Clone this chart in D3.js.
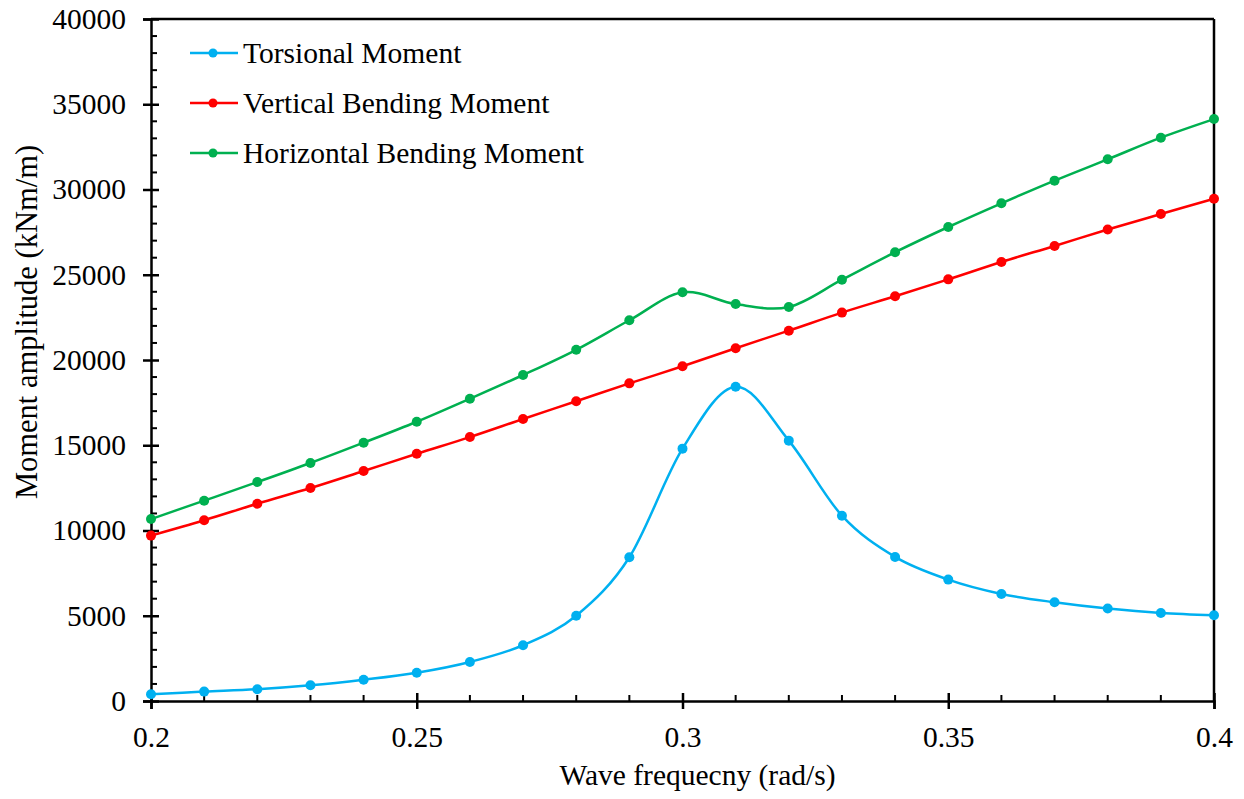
<!DOCTYPE html>
<html>
<head>
<meta charset="utf-8">
<script src="https://cdn.jsdelivr.net/npm/d3@7"></script>
<style>
  html, body { margin: 0; padding: 0; background: #fff; }
  svg { display: block; }
  svg text { font-family: "Times New Roman", "Liberation Serif", serif; fill: #000; }
</style>
</head>
<body>
<svg id="chart" width="1244" height="799"></svg>
<script>
const frequencies = [0.20,0.21,0.22,0.23,0.24,0.25,0.26,0.27,0.28,0.29,0.30,0.31,0.32,0.33,0.34,0.35,0.36,0.37,0.38,0.39,0.40];
const torsional = [400,550,690,920,1250,1660,2290,3270,5000,8430,14800,18430,15270,10870,8450,7120,6280,5790,5420,5160,5030];
const verticalBending = [9700,10600,11570,12490,13490,14500,15480,16540,17580,18630,19630,20690,21720,22780,23740,24730,25750,26690,27650,28560,29460];
const horizontalBending = [10670,11750,12840,13960,15150,16380,17730,19120,20600,22330,23970,23280,23110,24710,26320,27800,29190,30520,31770,33040,34130];
const seriesNames = ["Torsional Moment","Vertical Bending Moment","Horizontal Bending Moment"];
const seriesColors = ["#00B0F0","#FF0000","#00B050"];
const xTicks = [0.2,0.25,0.3,0.35,0.4];
const xTickLabels = ["0.2","0.25","0.3","0.35","0.4"];
const yTicks = [0,5000,10000,15000,20000,25000,30000,35000,40000];
const xLabel = "Wave frequecny (rad/s)";
const yLabel = "Moment amplitude (kNm/m)";

const svg = d3.select("#chart");
const L = 151, R = 1214, T = 19, B = 701;
const x = d3.scaleLinear().domain([0.2,0.4]).range([L,R]);
const y = d3.scaleLinear().domain([0,40000]).range([B,T]);
const FS = 29.5;
const FF = '"Times New Roman", "Liberation Serif", serif';

const allSeries = [torsional, verticalBending, horizontalBending];

// frame top and right
svg.append("line").attr("x1",L).attr("x2",R).attr("y1",T).attr("y2",T).attr("stroke","#000").attr("stroke-width",2.5);
svg.append("line").attr("x1",R).attr("x2",R).attr("y1",T).attr("y2",B).attr("stroke","#000").attr("stroke-width",2.5);

// minor ticks
const yMinor = d3.range(0,40001,1000).filter(v => v % 5000 !== 0);
svg.append("g").selectAll("line").data(yMinor).join("line")
  .attr("x1",L).attr("x2",L+6).attr("y1",d=>y(d)).attr("y2",d=>y(d))
  .attr("stroke","#000").attr("stroke-width",2);
const xMinor = d3.range(21,40).filter(v => v % 5 !== 0).map(v => v/100);
svg.append("g").selectAll("line").data(xMinor).join("line")
  .attr("x1",d=>x(d)).attr("x2",d=>x(d)).attr("y1",B).attr("y2",B-6)
  .attr("stroke","#000").attr("stroke-width",2);

// y axis
const yAxis = d3.axisLeft(y).tickValues(yTicks).tickSize(8).tickPadding(17).tickFormat(d3.format("d"));
const gy = svg.append("g").attr("transform",`translate(${L},0)`).call(yAxis).attr("font-family",FF).attr("font-size",FS);
gy.select(".domain").attr("stroke","#000").attr("stroke-width",2.5);
gy.selectAll(".tick line").attr("x1",-8).attr("x2",8).attr("stroke","#000").attr("stroke-width",2.5);
gy.selectAll(".tick text").attr("fill","#000");

// x axis
const xAxis = d3.axisBottom(x).tickValues(xTicks).tickSize(8).tickPadding(17).tickFormat((d,i)=>xTickLabels[i]);
const gx = svg.append("g").attr("transform",`translate(0,${B})`).call(xAxis).attr("font-family",FF).attr("font-size",FS);
gx.select(".domain").attr("stroke","#000").attr("stroke-width",2.5);
gx.selectAll(".tick line").attr("y1",-8).attr("y2",8).attr("stroke","#000").attr("stroke-width",2.5);
gx.selectAll(".tick text").attr("fill","#000");

// axis titles
svg.append("text").attr("x",(L+R)/2 + 15).attr("y",785).attr("text-anchor","middle").attr("font-family",FF).attr("font-size",FS).text(xLabel);
svg.append("text").attr("transform",`translate(37,322) rotate(-90)`).attr("text-anchor","middle").attr("font-family",FF).attr("font-size",30.5).text(yLabel);

// lines
const line = d3.line().x((d,i)=>x(frequencies[i])).y(d=>y(d)).curve(d3.curveCardinal.tension(0));
allSeries.forEach((s,k) => {
  svg.append("path").datum(s).attr("d",line).attr("fill","none").attr("stroke",seriesColors[k]).attr("stroke-width",2.5);
});
allSeries.forEach((s,k) => {
  svg.append("g").selectAll("circle").data(s).join("circle")
    .attr("cx",(d,i)=>x(frequencies[i])).attr("cy",d=>y(d)).attr("r",5).attr("fill",seriesColors[k]);
});

// legend
const legY = [53,103,153];
seriesNames.forEach((n,k) => {
  const g = svg.append("g");
  g.append("line").attr("x1",190).attr("x2",238).attr("y1",legY[k]).attr("y2",legY[k]).attr("stroke",seriesColors[k]).attr("stroke-width",2.5);
  g.append("circle").attr("cx",213).attr("cy",legY[k]).attr("r",4.5).attr("fill",seriesColors[k]);
  g.append("text").attr("x",243).attr("y",legY[k]).attr("dy","0.35em").attr("font-family",FF).attr("font-size",FS).text(n);
});
</script>
</body>
</html>
